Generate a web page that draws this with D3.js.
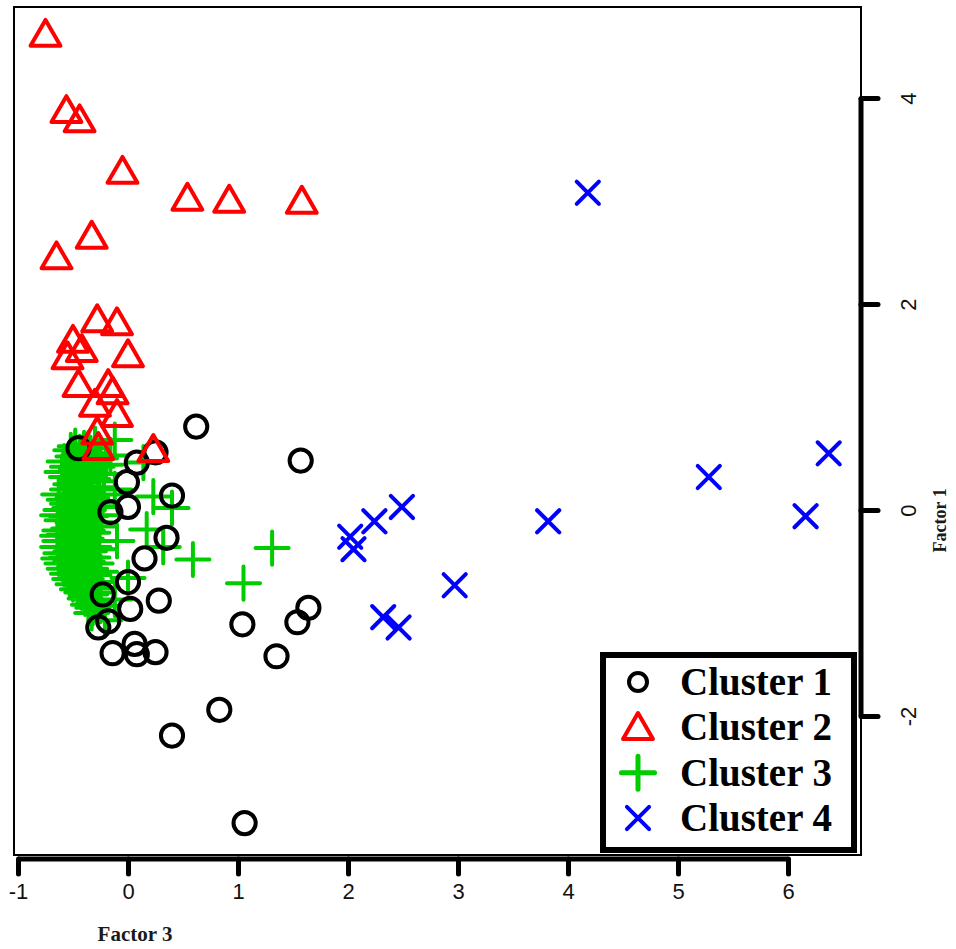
<!DOCTYPE html>
<html>
<head>
<meta charset="utf-8">
<script src="https://cdn.jsdelivr.net/npm/d3@7/dist/d3.min.js"></script>
<style>
  html, body { margin: 0; padding: 0; background: #fff; }
  svg { display: block; }
</style>
</head>
<body>
<svg id="chart" width="956" height="949"></svg>
<script>
// Factor scores (Factor 3 on x, Factor 1 on y) for each cluster
const cluster1 = [
  [0.62, 0.81], [1.57, 0.48], [0.25, 0.56], [-0.45, 0.60], [0.08, 0.46],
  [-0.01, 0.27], [0.40, 0.14], [0.00, 0.03], [-0.16, -0.02], [0.35, -0.27],
  [0.15, -0.47], [0.00, -0.70], [-0.23, -0.82], [0.28, -0.88], [0.02, -0.96],
  [-0.18, -1.08], [-0.27, -1.14], [0.06, -1.30], [-0.14, -1.39], [0.08, -1.40],
  [0.25, -1.38], [1.04, -1.11], [1.54, -1.09], [1.64, -0.95], [1.35, -1.42],
  [0.83, -1.94], [0.40, -2.19], [1.06, -3.04]
];
const cluster2 = [
  [-0.75, 4.59], [-0.56, 3.85], [-0.44, 3.76], [-0.05, 3.26], [0.54, 3.00],
  [0.92, 2.98], [1.58, 2.97], [-0.33, 2.63], [-0.65, 2.43], [-0.28, 1.82],
  [-0.10, 1.79], [-0.50, 1.62], [0.00, 1.48], [-0.55, 1.46], [-0.42, 1.53],
  [-0.45, 1.19], [-0.18, 1.19], [-0.14, 1.12], [-0.30, 1.00], [-0.10, 0.90],
  [-0.28, 0.73], [-0.27, 0.58], [0.23, 0.56]
];
const cluster3 = [
  [-0.48, 0.62], [-0.40, 0.60], [-0.30, 0.64], [-0.50, 0.52], [-0.42, 0.50],
  [-0.34, 0.55], [-0.25, 0.50], [-0.55, 0.42], [-0.47, 0.40], [-0.38, 0.44],
  [-0.28, 0.42], [-0.56, 0.32], [-0.48, 0.30], [-0.40, 0.34], [-0.32, 0.30],
  [-0.22, 0.35], [-0.55, 0.20], [-0.46, 0.22], [-0.37, 0.18], [-0.27, 0.22],
  [-0.58, 0.10], [-0.50, 0.12], [-0.42, 0.08], [-0.33, 0.12], [-0.22, 0.15],
  [-0.61, 0.00], [-0.53, 0.02], [-0.45, -0.02], [-0.36, 0.00], [-0.27, 0.03],
  [-0.60, -0.10], [-0.50, -0.12], [-0.40, -0.08], [-0.30, -0.12], [-0.62, -0.20],
  [-0.54, -0.18], [-0.46, -0.22], [-0.37, -0.20], [-0.26, -0.16], [-0.62, -0.30],
  [-0.54, -0.30], [-0.46, -0.32], [-0.38, -0.28], [-0.29, -0.30], [-0.61, -0.42],
  [-0.52, -0.40], [-0.44, -0.44], [-0.35, -0.40], [-0.26, -0.38], [-0.60, -0.52],
  [-0.52, -0.50], [-0.45, -0.53], [-0.37, -0.50], [-0.29, -0.52], [-0.55, -0.62],
  [-0.47, -0.62], [-0.40, -0.60], [-0.31, -0.63], [-0.50, -0.72], [-0.43, -0.70],
  [-0.35, -0.74], [-0.28, -0.70], [-0.42, -0.80], [-0.34, -0.82], [-0.27, -0.80],
  [-0.36, -0.92], [-0.29, -0.88], [-0.33, -1.00],
  [-0.52, 0.58], [-0.44, 0.56], [-0.36, 0.60], [-0.58, 0.47], [-0.31, 0.47],
  [-0.20, 0.44], [-0.60, 0.37], [-0.44, 0.27], [-0.36, 0.38], [-0.26, 0.28],
  [-0.52, 0.25], [-0.63, 0.15], [-0.55, 0.06], [-0.39, 0.14], [-0.29, 0.07],
  [-0.47, 0.05], [-0.64, -0.05], [-0.56, -0.06], [-0.44, -0.14], [-0.34, -0.06],
  [-0.24, -0.05], [-0.64, -0.25], [-0.58, -0.24], [-0.42, -0.24], [-0.32, -0.22],
  [-0.50, -0.26], [-0.64, -0.36], [-0.57, -0.36], [-0.49, -0.38], [-0.41, -0.36],
  [-0.31, -0.36], [-0.63, -0.47], [-0.56, -0.46], [-0.48, -0.47], [-0.40, -0.45],
  [-0.32, -0.46], [-0.58, -0.57], [-0.49, -0.56], [-0.42, -0.55], [-0.34, -0.57],
  [-0.25, -0.60], [-0.53, -0.67], [-0.45, -0.66], [-0.38, -0.67], [-0.30, -0.76],
  [-0.46, -0.77], [-0.39, -0.86], [-0.32, -0.95], [-0.25, -0.93],
  [-0.12, 0.68], [-0.16, 0.53], [0.14, 0.46], [0.23, 0.13], [0.40, 0.02],
  [0.17, -0.19], [0.32, -0.36], [0.59, -0.48], [1.05, -0.71], [1.31, -0.37],
  [0.00, -0.66], [-0.12, -0.87], [-0.21, -1.07], [-0.12, 0.20], [-0.10, -0.30]
];
const cluster4 = [
  [4.18, 3.08], [5.28, 0.32], [6.37, 0.55], [6.16, -0.06], [3.82, -0.11],
  [2.97, -0.73], [2.49, 0.03], [2.24, -0.11], [2.02, -0.26], [2.05, -0.38],
  [2.32, -1.04], [2.46, -1.14]
];

const xTicks = [-1, 0, 1, 2, 3, 4, 5, 6];
const yTicks = [-2, 0, 2, 4];
const legendLabels = ["Cluster 1", "Cluster 2", "Cluster 3", "Cluster 4"];
const xTitle = "Factor 3";
const yTitle = "Factor 1";

const svg = d3.select("#chart");

const x = d3.scaleLinear().domain([-1, 6]).range([18, 788]);
const y = d3.scaleLinear().domain([-2, 4]).range([716, 98]);

const box = { left: 14, top: 7, right: 861, bottom: 855 };

const R = 11.1;       // base symbol radius
const SW = 4;         // symbol stroke width

const col = { c1: "#000000", c2: "#ff0000", c3: "#00cd00", c4: "#0000ff" };
const tickFont = "'Liberation Sans', Arial, sans-serif";
const titleFont = "'Liberation Serif', 'Times New Roman', serif";

// symbol path generators
function triPath(cx, cy, r) {
  const top = 1.555 * r, half = 1.347 * r, base = 0.778 * r;
  return `M${cx},${cy - top}L${cx + half},${cy + base}L${cx - half},${cy + base}Z`;
}
function plusPath(cx, cy, r) {
  const h = 1.49 * r;
  return `M${cx - h},${cy}H${cx + h}M${cx},${cy - h}V${cy + h}`;
}
function crossPath(cx, cy, r) {
  return `M${cx - r},${cy - r}L${cx + r},${cy + r}M${cx - r},${cy + r}L${cx + r},${cy - r}`;
}

// plot frame
svg.append("rect")
  .attr("x", box.left).attr("y", box.top)
  .attr("width", box.right - box.left).attr("height", box.bottom - box.top)
  .attr("fill", "none").attr("stroke", "#000").attr("stroke-width", 2);

const plot = svg.append("g");

// Cluster 3 pluses
plot.append("g").selectAll("path").data(cluster3).join("path")
  .attr("d", d => plusPath(x(d[0]), y(d[1]), R))
  .attr("fill", "none").attr("stroke", col.c3)
  .attr("stroke-width", SW).attr("stroke-linecap", "round");

// Cluster 1 circles
plot.append("g").selectAll("circle").data(cluster1).join("circle")
  .attr("cx", d => x(d[0])).attr("cy", d => y(d[1])).attr("r", R)
  .attr("fill", "none").attr("stroke", col.c1).attr("stroke-width", SW);

// Cluster 2 triangles
plot.append("g").selectAll("path").data(cluster2).join("path")
  .attr("d", d => triPath(x(d[0]), y(d[1]), R))
  .attr("fill", "none").attr("stroke", col.c2)
  .attr("stroke-width", SW).attr("stroke-linejoin", "round");

// Cluster 4 crosses
plot.append("g").selectAll("path").data(cluster4).join("path")
  .attr("d", d => crossPath(x(d[0]), y(d[1]), R))
  .attr("fill", "none").attr("stroke", col.c4)
  .attr("stroke-width", SW).attr("stroke-linecap", "round");

// bottom axis (Factor 3)
const xAxis = d3.axisBottom(x).tickValues(xTicks).tickSize(15).tickPadding(9)
  .tickFormat(d3.format("d"));
const gx = svg.append("g").attr("transform", "translate(0,859)").call(xAxis);
gx.select(".domain").attr("stroke", "#000").attr("stroke-width", 5)
  .attr("d", `M${x(-1)},0H${x(6)}`);
gx.selectAll(".tick line").attr("stroke", "#000").attr("stroke-width", 5)
  .attr("stroke-linecap", "round");
gx.selectAll(".tick text")
  .attr("font-family", tickFont)
  .attr("font-size", 22).attr("fill", "#111")
  .text(d => d < 0 ? "-" + Math.abs(d) : d);

// right axis (Factor 1)
const yAxis = d3.axisRight(y).tickValues(yTicks).tickSize(17).tickPadding(0)
  .tickFormat(d3.format("d"));
const gy = svg.append("g").attr("transform", "translate(861,0)").call(yAxis);
gy.select(".domain").attr("stroke", "#000").attr("stroke-width", 5)
  .attr("d", `M0,${y(4)}V${y(-2)}`);
gy.selectAll(".tick line").attr("stroke", "#000").attr("stroke-width", 5)
  .attr("stroke-linecap", "round");
gy.selectAll(".tick text").remove();
gy.selectAll(".tick").append("text")
  .attr("transform", "translate(47,0) rotate(-90)")
  .attr("text-anchor", "middle").attr("dy", "0.35em")
  .attr("font-family", tickFont)
  .attr("font-size", 22).attr("fill", "#111")
  .text(d => d < 0 ? "-" + Math.abs(d) : d);

// axis titles
svg.append("text")
  .attr("x", 135).attr("y", 941)
  .attr("text-anchor", "middle")
  .attr("font-family", titleFont)
  .attr("font-weight", "bold").attr("font-size", 21).attr("fill", "#1a1a1a")
  .text(xTitle);
svg.append("text")
  .attr("transform", `translate(946,${y(-0.1)}) rotate(-90)`)
  .attr("text-anchor", "middle")
  .attr("font-family", titleFont)
  .attr("font-weight", "bold").attr("font-size", 18).attr("fill", "#1a1a1a")
  .text(yTitle);

// legend
const leg = svg.append("g");
leg.append("rect")
  .attr("x", 603).attr("y", 655).attr("width", 251).attr("height", 195)
  .attr("fill", "#fff").attr("stroke", "#000").attr("stroke-width", 6);

const rowY = d3.scalePoint().domain(legendLabels).range([682, 818]);
const symX = 638;
const legendSymbols = [
  g => g.append("circle").attr("cx", symX).attr("cy", 0).attr("r", 9)
        .attr("fill", "none").attr("stroke", col.c1).attr("stroke-width", SW),
  g => g.append("path").attr("d", triPath(symX, 3, R))
        .attr("fill", "none").attr("stroke", col.c2).attr("stroke-width", SW)
        .attr("stroke-linejoin", "round"),
  g => g.append("path").attr("d", plusPath(symX, 0, R))
        .attr("fill", "none").attr("stroke", col.c3).attr("stroke-width", SW + 1)
        .attr("stroke-linecap", "round"),
  g => g.append("path").attr("d", crossPath(symX, 0, R))
        .attr("fill", "none").attr("stroke", col.c4).attr("stroke-width", SW)
        .attr("stroke-linecap", "round")
];
legendLabels.forEach((lab, i) => {
  const g = leg.append("g").attr("transform", `translate(0,${rowY(lab)})`);
  legendSymbols[i](g);
  g.append("text")
    .attr("x", 680).attr("y", 0).attr("dy", "0.33em")
    .attr("font-family", titleFont)
    .attr("font-weight", "bold").attr("font-size", 39).attr("fill", "#000")
    .text(lab);
});
</script>
</body>
</html>
